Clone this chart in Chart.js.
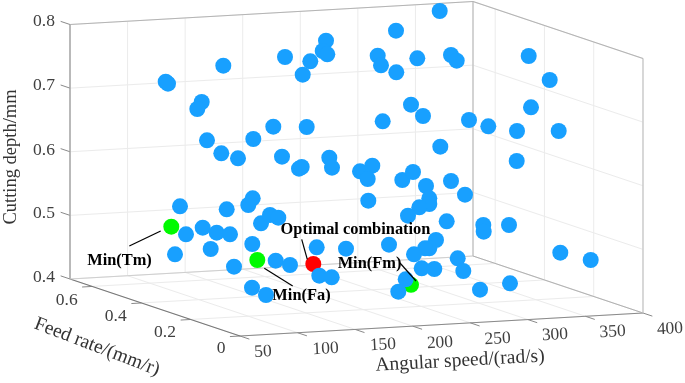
<!DOCTYPE html>
<html><head><meta charset="utf-8">
<style>html,body{margin:0;padding:0;background:#fff}canvas{display:block}</style>
<script src="https://cdn.jsdelivr.net/npm/chart.js@4"></script>
</head><body><canvas id="c" width="685" height="383"></canvas>
<script>
// Tick labels of the three axes
const speedTicks = [50,100,150,200,250,300,350,400];
const feedTicks = [0,0.2,0.4,0.6];
const depthTicks = [0.4,0.5,0.6,0.7,0.8];
const speedRange = [50,400], feedRange = [0,0.69], depthRange = [0.4,0.8];

// Points, in the projected plane of the 3D view
const trialsX = [165.7,168,223.3,285,310.3,302.7,326,322.7,327.3,201.7,197.3,273.3,306.7,207,253.3,221.3,238,282,329.3,332,299,301.7,
 439.7,396,377.7,381,396.3,417.3,451,456.7,528.7,549.7,531,411,423,382.7,469,488.3,517,558.7,440.3,516.7,
 360,372.3,367.7,368.3,402.3,413,426,429.3,429.3,419.3,408,451,465,446.7,
 483.3,483.7,509,389,436,429.3,425,414,457.7,463.3,421.7,434.3,405.7,398.3,480,510,560.3,590.7,
 180,186,202.7,216.7,230,226.7,248.3,252.7,261,270,278.3,175,210.7,252.3,234,275.7,290,316.7,346,319.3,331.7,252,266];
const trialsY = [81.7,83.7,65.7,57,61.3,74.7,40.7,51,54.3,102,109,126.7,127,140.3,139,153.3,158.3,156.7,157.7,167.7,168.7,167,
 11,30.7,55.7,65.3,72.3,58.3,55,60.7,56,80,107.3,104.7,116,121.3,120,126.3,131,131,146.7,161,
 171.3,165.7,179,200.7,180,172,186,198.3,204,207.3,215.7,181,194.7,221.3,
 225,231.7,225,244.7,240,248.3,248.3,254.3,258.3,271,268.3,269,279.3,291.7,289.7,283.3,252.7,260,
 206.3,234.3,227.7,232.7,234.3,209.3,205,198.3,223.3,215,217.7,254.3,249,244,266.7,260.7,265,247.3,248.7,275.7,277.3,287.7,295];
const minFactorX = [171.3,257.3,411];   // Min(Tm), Min(Fa), Min(Fm)
const minFactorY = [226.7,260,284.8];
const optimalX = [313.3];
const optimalY = [264];

const noteTexts = ["Min(Tm)","Min(Fa)","Min(Fm)","Optimal combination"];
const noteX = [119.5,301.5,369.5,355.5];
const noteY = [260.5,295.7,264,230];
const leaderX = [[129.3,160.7],[264.3,292.7],[400,416],[301.7,307.3]];
const leaderY = [[246,231],[268.3,286],[263,281],[239.3,259.3]];

// Where the view places the corners of the box
const view = {ox:240,oy:336,ux:403,uy:-23,vx:-170,vy:-57,wx:0,wy:-254.5};
function project(s,f,d){
  const u=(s-speedRange[0])/(speedRange[1]-speedRange[0]);
  const v=(f-feedRange[0])/(feedRange[1]-feedRange[0]);
  const w=(d-depthRange[0])/(depthRange[1]-depthRange[0]);
  return {x:view.ox+u*view.ux+v*view.vx+w*view.wx, y:view.oy+u*view.uy+v*view.vy+w*view.wy};
}
const S0=speedRange[0],S1=speedRange[1],F0=feedRange[0],F1=feedRange[1],D0=depthRange[0],D1=depthRange[1];
const datasets=[];
function seg(a,b,color,width,order){
  datasets.push({type:'scatter',showLine:true,data:[a,b],borderColor:color,borderWidth:width,pointRadius:0,order:order,clip:false,fill:false});
}
const GRID='#ebebeb';
// wall and floor grids
speedTicks.forEach(s=>{
  seg(project(s,F1,D0),project(s,F1,D1),GRID,1,5);
  seg(project(s,F0,D0),project(s,F1,D0),GRID,1,5);
});
feedTicks.forEach(f=>{
  seg(project(S1,f,D0),project(S1,f,D1),GRID,1,5);
  seg(project(S0,f,D0),project(S1,f,D0),GRID,1,5);
});
depthTicks.forEach(d=>{
  seg(project(S0,F1,d),project(S1,F1,d),GRID,1,5);
  seg(project(S1,F1,d),project(S1,F0,d),GRID,1,5);
});
// box
seg(project(S0,F1,D1),project(S1,F1,D1),'#b4b4b4',1.2,4);
seg(project(S1,F1,D1),project(S1,F0,D1),'#b4b4b4',1.2,4);
seg(project(S1,F1,D0),project(S1,F1,D1),'#bdbdbd',1.2,4);
seg(project(S1,F0,D0),project(S1,F0,D1),'#c4c4c4',1.2,4);
seg(project(S0,F1,D0),project(S1,F1,D0),'#cfcfcf',1,4);
seg(project(S1,F1,D0),project(S1,F0,D0),'#b0b0b0',1,4);
// axes
const AX='#8a8a8a';
seg(project(S0,F1,D0),project(S0,F1,D1),'#a0a0a0',1.4,4);
seg(project(S0,F0,D0),project(S1,F0,D0),AX,1.1,4);
seg(project(S0,F0,D0),project(S0,F1,D0),'#777777',1.1,4);
const tl=0.055*F1, tu=0.025*(S1-S0);
speedTicks.forEach(s=>seg(project(s,F0,D0),project(s,F0-tl,D0),AX,1,4));
feedTicks.forEach(f=>seg(project(S0,f,D0),project(S0-tu,f,D0),AX,1,4));
depthTicks.forEach(d=>seg(project(S0,F1,d),project(S0,F1+tl,d),AX,1,4));
// marks
const pts=(xs,ys)=>xs.map((x,i)=>({x:x,y:ys[i]}));
datasets.push({label:'Optimal',type:'scatter',data:pts(optimalX,optimalY),backgroundColor:'#ff0000',borderWidth:0,pointRadius:8,order:2,clip:false});
datasets.push({label:'Minimum',type:'scatter',data:pts(minFactorX,minFactorY),backgroundColor:'#00fa00',borderWidth:0,pointRadius:8,order:2,clip:false});
datasets.push({label:'Trials',type:'scatter',data:pts(trialsX,trialsY),backgroundColor:'#18a0ff',borderWidth:0,pointRadius:8,order:1,clip:false});
leaderX.forEach((xs,i)=>seg({x:xs[0],y:leaderY[i][0]},{x:xs[1],y:leaderY[i][1]},'#000000',1.2,0));

// tick and title placement in the projected plane
const speedLabelX=[263,325.7,383,440,497.7,555,612.7,670], speedLabelY=[352,349,345,343,339,335,332,329];
const feedLabelX=[221,165,115.7,66.7], feedLabelY=[348,332.7,316.7,300];
const depthLabelX=[44,44,44,44,44], depthLabelY=[277,213.7,150,85.7,21.7];
const titles=[["Cutting depth/mm",11,157,-90],["Angular speed/(rad/s)",460,361,-3.2],["Feed rate/(mm/r)",97,347,21]];
const titleSizes=[18.5,19.5,19.5];

const textPlugin={id:'texts',afterDatasetsDraw(chart){
  const c=chart.ctx,X=chart.scales.x,Y=chart.scales.y;
  const put=(t,x,y,font,color,deg)=>{
    c.save();c.translate(X.getPixelForValue(x),Y.getPixelForValue(y));c.rotate((deg||0)*Math.PI/180);
    c.font=font;c.fillStyle=color;c.textAlign='center';c.textBaseline='middle';c.fillText(t,0,0);c.restore();
  };
  const F='"Liberation Serif"', TC='#404040';
  speedTicks.forEach((t,i)=>put(String(t),speedLabelX[i],speedLabelY[i],'17.5px '+F,TC,-3));
  feedTicks.forEach((t,i)=>put(String(t),feedLabelX[i],feedLabelY[i],'17.5px '+F,TC,0));
  depthTicks.forEach((t,i)=>put(t.toFixed(1),depthLabelX[i],depthLabelY[i],'17.5px '+F,TC,0));
  titles.forEach((t,i)=>put(t[0],t[1],t[2],titleSizes[i]+'px '+F,'#333333',t[3]));
  noteTexts.forEach((t,i)=>put(t,noteX[i],noteY[i],'bold 16.4px '+F,'#000000',0));
}};

new Chart(document.getElementById('c'),{
  type:'scatter',
  data:{datasets:datasets},
  options:{responsive:false,animation:false,
    layout:{padding:0,autoPadding:false},
    plugins:{legend:{display:false},tooltip:{enabled:false}},
    scales:{x:{type:'linear',min:0,max:685,display:false},y:{type:'linear',min:0,max:383,reverse:true,display:false}}
  },
  plugins:[textPlugin,{id:'bg',beforeDraw(ch){const c=ch.ctx;c.save();c.fillStyle='#fff';c.fillRect(0,0,ch.width,ch.height);c.restore();}}]
});
</script></body></html>
